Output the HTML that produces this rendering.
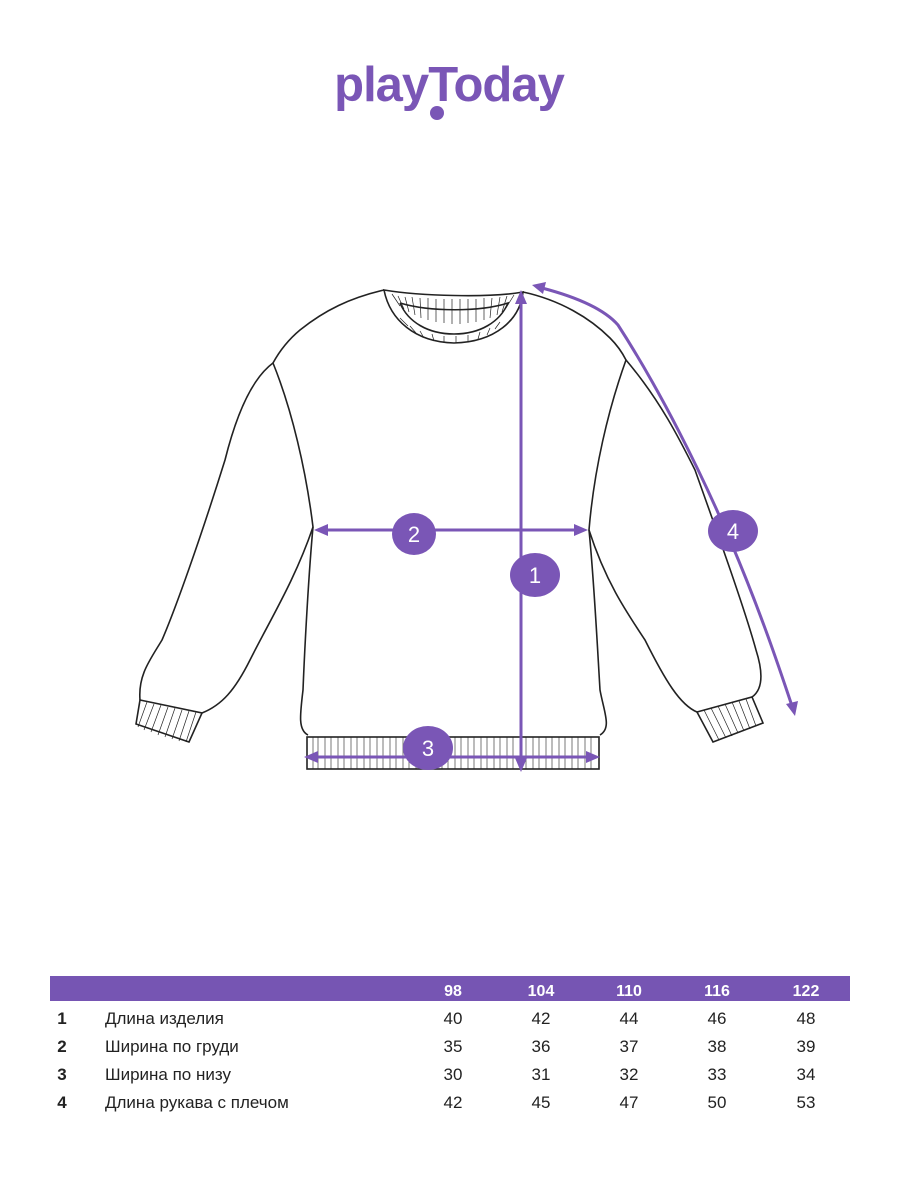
<!DOCTYPE html>
<html><head><meta charset="utf-8"><style>
body{margin:0;width:900px;height:1200px;background:#fff;overflow:hidden;position:relative;font-family:"Liberation Sans",sans-serif}
svg{position:absolute;left:0;top:0}
</style></head><body>
<svg width="900" height="1200" viewBox="0 0 900 1200">
<text x="449" y="101" text-anchor="middle" font-family="Liberation Sans" font-weight="bold" font-size="49" fill="#7a56b6" letter-spacing="-1">playToday</text>
<circle cx="437" cy="113" r="7" fill="#7a56b6"/>
<g fill="none" stroke="#222" stroke-width="1.6">
<!-- body -->
<path d="M384,290 C350,298 325,310 300,330 C288,340 279,352 273,363 C292,410 306,470 313,527 C309,570 305,640 303,690 C300,715 298,730 308,735"/>
<path d="M523,292 C560,300 590,318 610,338 C617,345 622,352 626,360 C608,410 594,470 589,530 C594,580 597,640 600,690 C604,712 612,728 600,735"/>
<!-- collar -->
<path d="M384,290 C420,296 490,298 523,292 C520,320 495,342 454,343 C415,342 390,320 384,290Z"/>
<path d="M400,303 C430,312 480,312 508,303 C500,322 480,334 454,334 C428,334 408,322 400,303"/>
<g stroke-width="0.7"><path d="M392,294 L400,306 M398,296 L404,309 M405,297 L409,312 M412,297 L415,315 M420,298 L421,318 M428,298 L428,320 M436,299 L436,322 M444,299 L444,323 M452,299 L452,324 M460,299 L460,324 M468,299 L468,323 M476,299 L476,322 M484,298 L484,320 M492,298 L490,318 M500,297 L497,315 M507,296 L502,312 M514,295 L506,308"/>
<path d="M400,318 L408,326 M410,326 L416,333 M420,331 L424,338 M432,334 L434,341 M444,336 L444,343 M456,336 L456,343 M468,335 L468,342 M480,332 L478,339 M490,328 L487,335 M500,322 L495,329"/></g>
<!-- left sleeve -->
<path d="M273,363 C250,380 235,420 225,460 C200,540 175,610 162,640 C150,660 138,675 140,700"/>
<path d="M313,527 C295,580 270,620 250,660 C235,690 222,705 202,713"/>
<path d="M140,700 L202,713 L189,742 L136,724Z"/>
<path stroke-width="0.7" d="M147,702 L138,727 M154,704 L144,730 M161,705 L151,732 M168,707 L158,735 M175,708 L165,737 M182,710 L172,739 M189,711 L179,741 M196,712 L186,742"/>
<!-- right sleeve -->
<path d="M626,360 C660,400 680,440 695,470 C720,540 745,610 756,650 C764,675 762,690 752,697"/>
<path d="M589,530 C605,580 625,610 645,640 C665,680 680,705 697,712"/>
<path d="M697,712 L752,697 L763,723 L713,742Z"/>
<path stroke-width="0.7" d="M704,710 L719,740 M711,708 L726,738 M718,706 L732,736 M725,704 L738,733 M732,702 L744,731 M739,701 L750,729 M746,699 L756,726"/>
<!-- hem band -->
<rect x="307" y="737" width="292" height="32"/>
<path stroke-width="0.6" d="M313,737v32M318,737v32M325,737v32M331,737v32M338,737v32M344,737v32M351,737v32M357,737v32M364,737v32M370,737v32M377,737v32M383,737v32M390,737v32M396,737v32M403,737v32M409,737v32M416,737v32M422,737v32M429,737v32M435,737v32M442,737v32M448,737v32M455,737v32M461,737v32M468,737v32M474,737v32M481,737v32M487,737v32M494,737v32M500,737v32M507,737v32M513,737v32M520,737v32M526,737v32M533,737v32M539,737v32M546,737v32M552,737v32M559,737v32M565,737v32M572,737v32M578,737v32M585,737v32M591,737v32"/>
</g>
<!-- arrows -->
<g stroke="#7a56b6" stroke-width="3" fill="none">
<path d="M521,300 V762"/>
<path d="M324,530 H578"/>
<path d="M314,757 H590"/>
<path d="M542,288 C580,298 605,310 618,325 C660,390 700,470 730,540 C760,610 780,670 792,706"/>
</g>
<g fill="#7a56b6">
<polygon points="521,290 515,304 527,304"/>
<polygon points="521,772 515,758 527,758"/>
<polygon points="314,530 328,524 328,536"/>
<polygon points="588,530 574,524 574,536"/>
<polygon points="304,757 318,751 318,763"/>
<polygon points="600,757 586,751 586,763"/>
<polygon points="532,285 546,282 543,294"/>
<polygon points="795,716 786,704 798,701"/>
<ellipse cx="535" cy="575" rx="25" ry="22"/>
<ellipse cx="414" cy="534" rx="22" ry="21"/>
<ellipse cx="428" cy="748" rx="25" ry="22"/>
<ellipse cx="733" cy="531" rx="25" ry="21"/>
</g>
<g fill="#fff" font-family="Liberation Sans" font-size="22" text-anchor="middle">
<text x="535" y="583">1</text><text x="414" y="542">2</text><text x="428" y="756">3</text><text x="733" y="539">4</text>
</g>
<!-- table -->
<rect x="50" y="976" width="800" height="25" fill="#7655b3"/>
<g font-family="Liberation Sans" font-size="16" font-weight="bold" fill="#fff" text-anchor="middle">
<text x="453" y="996">98</text><text x="541" y="996">104</text><text x="629" y="996">110</text><text x="717" y="996">116</text><text x="806" y="996">122</text>
</g>
<g font-family="Liberation Sans" font-size="17" fill="#222">
<g font-weight="bold" text-anchor="middle"><text x="62" y="1024">1</text><text x="62" y="1052">2</text><text x="62" y="1080">3</text><text x="62" y="1108">4</text></g>
<text x="105" y="1024">Длина изделия</text>
<text x="105" y="1052">Ширина по груди</text>
<text x="105" y="1080">Ширина по низу</text>
<text x="105" y="1108">Длина рукава с плечом</text>
<g text-anchor="middle">
<text x="453" y="1024">40</text><text x="541" y="1024">42</text><text x="629" y="1024">44</text><text x="717" y="1024">46</text><text x="806" y="1024">48</text>
<text x="453" y="1052">35</text><text x="541" y="1052">36</text><text x="629" y="1052">37</text><text x="717" y="1052">38</text><text x="806" y="1052">39</text>
<text x="453" y="1080">30</text><text x="541" y="1080">31</text><text x="629" y="1080">32</text><text x="717" y="1080">33</text><text x="806" y="1080">34</text>
<text x="453" y="1108">42</text><text x="541" y="1108">45</text><text x="629" y="1108">47</text><text x="717" y="1108">50</text><text x="806" y="1108">53</text>
</g></g>
</svg>
</body></html>
